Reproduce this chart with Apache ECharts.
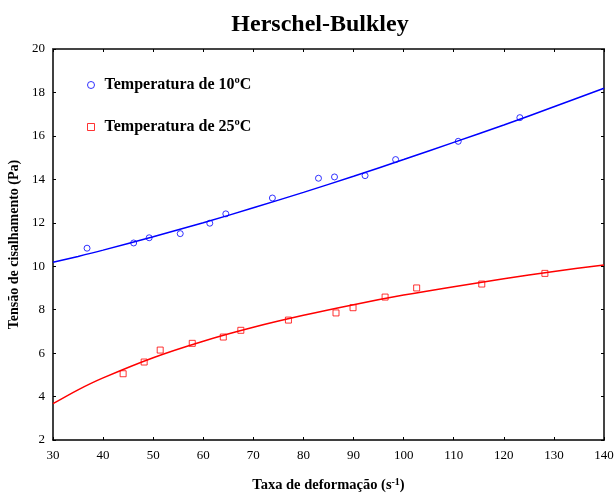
<!DOCTYPE html>
<html><head><meta charset="utf-8">
<script src="https://cdn.jsdelivr.net/npm/echarts@6/dist/echarts.min.js"></script>
<style>html,body{margin:0;padding:0;background:#fff}#c{width:616px;height:493px}</style>
</head><body><div id="c"></div>
<script>
var titleText = 'Herschel-Bulkley';
var xName = 'Taxa de deformação (s{sup|-1})';
var yName = 'Tensão de cisalhamento (Pa)';
var name10 = 'Temperatura de 10ºC';
var name25 = 'Temperatura de 25ºC';

// measured points
var obs10X = [36.8, 46.1, 49.2, 55.4, 61.3, 64.5, 73.8, 83.0, 86.2, 92.3, 98.4, 110.9, 123.2];
var obs10Y = [10.83, 11.07, 11.31, 11.50, 11.98, 12.41, 13.14, 14.05, 14.11, 14.17, 14.91, 15.75, 16.84];
var obs25X = [44.0, 48.2, 51.4, 57.8, 64.0, 67.5, 77.0, 86.5, 89.9, 96.3, 102.6, 115.6, 128.2];
var obs25Y = [5.05, 5.59, 6.14, 6.45, 6.74, 7.05, 7.52, 7.85, 8.09, 8.58, 9.00, 9.18, 9.67];

// fitted curves
var fit10X = [30, 35, 40, 50, 60, 70, 80, 90, 100, 110, 120, 130, 140];
var fit10Y = [10.18, 10.45, 10.74, 11.36, 12.00, 12.69, 13.40, 14.14, 14.91, 15.70, 16.50, 17.34, 18.19];
var fit25X = [30, 35, 40, 50, 60, 70, 80, 90, 100, 110, 120, 130, 140];
var fit25Y = [3.67, 4.31, 4.86, 5.79, 6.55, 7.19, 7.74, 8.23, 8.67, 9.06, 9.42, 9.76, 10.06];

function zip(a, b) { return a.map(function (v, i) { return [v, b[i]]; }); }

var serif = "'Liberation Serif','Times New Roman',serif";
var chart = echarts.init(document.getElementById('c'), null, {renderer: 'canvas'});
var tick = {show: true, inside: true, length: 3, lineStyle: {color: '#000', width: 1}};
chart.setOption({
  animation: false,
  backgroundColor: '#fff',
  title: {
    text: titleText, left: 315, textAlign: 'center', top: 8,
    textStyle: {fontFamily: serif, fontWeight: 'bold', fontSize: 24, color: '#000'}
  },
  legend: {
    orient: 'vertical', left: 82, top: 72, itemGap: 26, itemWidth: 7, itemHeight: 7,
    data: [name10, name25],
    itemStyle: {borderWidth: 1},
    textStyle: {fontFamily: serif, fontWeight: 'bold', fontSize: 16, color: '#000', padding: [0, 0, 0, 5]}
  },
  grid: {left: 53, right: 12, top: 49, bottom: 53, containLabel: false, outerBoundsMode: 'none'},
  xAxis: [{
    type: 'value', min: 30, max: 140, interval: 10, position: 'bottom',
    name: xName, nameLocation: 'middle', nameGap: 37,
    nameTextStyle: {fontFamily: serif, fontWeight: 'bold', fontSize: 14.5, color: '#000',
      rich: {sup: {fontFamily: serif, fontWeight: 'bold', fontSize: 10, verticalAlign: 'top', padding: [0, 0, 6, 0]}}},
    axisLine: {show: true, lineStyle: {color: '#000', width: 1.5}},
    axisLabel: {fontFamily: serif, fontSize: 13, color: '#000', margin: 9},
    axisTick: tick, splitLine: {show: false}
  }, {
    type: 'value', min: 30, max: 140, interval: 10, position: 'top',
    axisLine: {show: true, lineStyle: {color: '#444', width: 2}},
    axisLabel: {show: false},
    axisTick: tick, splitLine: {show: false}
  }],
  yAxis: [{
    type: 'value', min: 2, max: 20, interval: 2, position: 'left',
    name: yName, nameLocation: 'middle', nameGap: 30,
    nameTextStyle: {fontFamily: serif, fontWeight: 'bold', fontSize: 14, color: '#000'},
    axisLine: {show: true, lineStyle: {color: '#000', width: 1.5}},
    axisLabel: {fontFamily: serif, fontSize: 13, color: '#000', margin: 8},
    axisTick: tick, splitLine: {show: false}
  }, {
    type: 'value', min: 2, max: 20, interval: 2, position: 'right',
    axisLine: {show: true, lineStyle: {color: '#444', width: 2}},
    axisLabel: {show: false},
    axisTick: tick, splitLine: {show: false}
  }],
  series: [
    {name: 'fit10', type: 'line', data: zip(fit10X, fit10Y), smooth: 0.3, showSymbol: false, symbol: 'none',
     lineStyle: {color: '#0000ff', width: 1.5}, itemStyle: {color: '#0000ff'}, z: 2},
    {name: 'fit25', type: 'line', data: zip(fit25X, fit25Y), smooth: 0.3, showSymbol: false, symbol: 'none',
     lineStyle: {color: '#ff0000', width: 1.5}, itemStyle: {color: '#ff0000'}, z: 2},
    {name: name10, type: 'scatter', data: zip(obs10X, obs10Y), symbol: 'circle', symbolSize: 6,
     itemStyle: {color: 'rgba(255,255,255,0)', borderColor: '#0000ff', borderWidth: 1}, z: 3},
    {name: name25, type: 'scatter', data: zip(obs25X, obs25Y), symbol: 'rect', symbolSize: 6,
     itemStyle: {color: 'rgba(255,255,255,0)', borderColor: '#ff0000', borderWidth: 1}, z: 3}
  ]
});
</script></body></html>
